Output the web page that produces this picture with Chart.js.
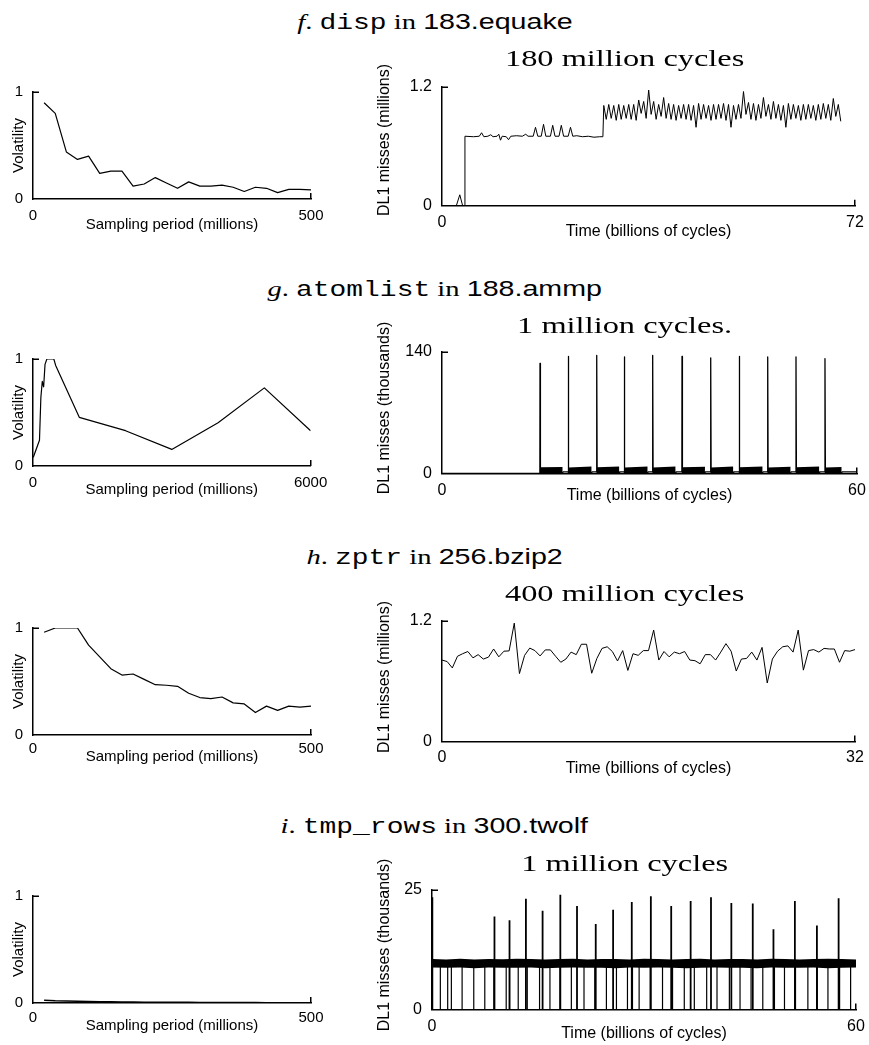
<!DOCTYPE html>
<html><head><meta charset="utf-8">
<script src="https://cdn.jsdelivr.net/npm/chart.js@4.4.0/dist/chart.umd.min.js"></script>
<style>
html,body{margin:0;padding:0;background:#fff;}
body{width:869px;height:1045px;position:relative;overflow:hidden;}
canvas{position:absolute;}
.hdr{position:absolute;left:0;width:869px;text-align:center;font-size:22px;line-height:22px;white-space:nowrap;z-index:2;color:#000;}
.hdr .w{display:inline-block;transform:scaleX(1.3);}
.serif{font-family:"Liberation Serif","Times New Roman",serif;}
.mono{font-family:"Liberation Mono","DejaVu Sans Mono",monospace;font-size:21.5px;}
.sans{font-family:"Liberation Sans",Arial,sans-serif;}
.sub{position:absolute;left:425px;width:400px;text-align:center;font-family:"Liberation Serif","Times New Roman",serif;font-size:24px;line-height:24px;white-space:nowrap;z-index:2;color:#000;}
.sub .w{display:inline-block;transform:scaleX(1.35);}
.ytl{position:absolute;left:384px;font-family:"Liberation Sans",Arial,sans-serif;font-size:16px;line-height:16px;white-space:nowrap;color:#000;transform:translate(-50%,-50%) rotate(-90deg);z-index:2;}
</style></head><body>

<div class="hdr" style="top:11px"><span class="w"><i class="serif">f</i><span class="serif">.</span> <span class="mono">disp</span> <span class="serif">in</span> <span class="sans">183.equake</span></span></div>
<div class="sub" style="top:46px"><span class="w">180 million cycles</span></div>
<div class="hdr" style="top:278px"><span class="w"><i class="serif">g</i><span class="serif">.</span> <span class="mono">atomlist</span> <span class="serif">in</span> <span class="sans">188.ammp</span></span></div>
<div class="sub" style="top:313px"><span class="w">1 million cycles.</span></div>
<div class="hdr" style="top:546px"><span class="w"><i class="serif">h</i><span class="serif">.</span> <span class="mono">zptr</span> <span class="serif">in</span> <span class="sans">256.bzip2</span></span></div>
<div class="sub" style="top:581px"><span class="w">400 million cycles</span></div>
<div class="hdr" style="top:815px"><span class="w"><i class="serif">i</i><span class="serif">.</span> <span class="mono">tmp_rows</span> <span class="serif">in</span> <span class="sans">300.twolf</span></span></div>
<div class="sub" style="top:851px"><span class="w">1 million cycles</span></div>

<div class="ytl" style="top:140px">DL1 misses (millions)</div>
<div class="ytl" style="top:408px">DL1 misses (thousands)</div>
<div class="ytl" style="top:677px">DL1 misses (millions)</div>
<div class="ytl" style="top:945px">DL1 misses (thousands)</div>

<script>
// ---------------- DATA ----------------
// f. disp in 183.equake
const fVolPeriod = [20,40,60,80,100,120,140,160,180,200,220,240,260,280,300,320,340,360,380,400,420,440,460,480,500];
const fVol = [0.90,0.80,0.44,0.37,0.40,0.24,0.26,0.26,0.12,0.14,0.20,0.15,0.10,0.16,0.12,0.12,0.13,0.11,0.07,0.11,0.10,0.06,0.09,0.09,0.085];
const fTime = [0,2.5,3.1,3.6,3.95,4.0,5.5,6.5,6.9,7.3,8.0,8.5,8.9,9.6,9.9,10.2,10.5,11.2,11.6,12.0,13.0,14.0,14.6,15.0,15.9,16.3,16.7,17.3,17.7,18.1,18.9,19.3,19.7,20.4,20.8,21.2,22.0,22.4,22.8,23.5,24.5,25.5,26.5,27.5,28.05,
 28.20,28.63,29.07,29.50,29.94,30.37,30.81,31.24,31.68,32.11,32.55,32.98,33.42,33.85,34.29,34.72,35.16,35.59,36.03,36.46,36.90,37.33,37.77,38.20,38.64,39.07,39.51,39.94,40.38,40.81,41.25,41.68,42.12,42.55,42.99,43.42,43.86,44.29,44.73,45.16,45.60,46.03,46.47,46.90,47.34,47.77,48.21,48.64,49.08,49.51,49.95,50.38,50.82,51.25,51.69,52.12,52.56,52.99,53.43,53.86,54.30,54.73,55.17,55.60,56.04,56.47,56.91,57.34,57.78,58.21,58.65,59.08,59.52,59.95,60.39,60.82,61.26,61.69,62.13,62.56,63.00,63.43,63.87,64.30,64.74,65.17,65.61,66.04,66.48,66.91,67.35,67.78,68.22,68.65,69.09,69.52];
const fMiss = [0,0,0.11,0,0,0.70,0.695,0.70,0.735,0.695,0.70,0.715,0.695,0.70,0.72,0.66,0.70,0.695,0.665,0.70,0.705,0.70,0.72,0.70,0.70,0.79,0.70,0.70,0.82,0.70,0.70,0.81,0.70,0.70,0.81,0.70,0.70,0.79,0.70,0.705,0.695,0.70,0.69,0.695,0.695,
 1.01,0.87, 1.02,0.88, 1.01,0.86, 1.02,0.87, 1.01,0.88, 1.02,0.87, 1.02,0.86, 1.065,0.93, 1.05,0.88, 1.165,0.92,
 1.05,0.87, 1.02,0.90, 1.09,0.88, 1.03,0.87, 1.02,0.86, 1.01,0.88, 1.02,0.87, 1.02,0.86, 1.01,0.79, 1.03,0.87,
 1.02,0.88, 1.01,0.86, 1.02,0.87, 1.02,0.88, 1.03,0.86, 1.02,0.79, 1.01,0.87, 1.02,0.88, 1.15,0.92, 1.04,0.87,
 1.03,0.86, 1.02,0.88, 1.09,0.90, 1.02,0.87, 1.05,0.88, 1.02,0.86, 1.01,0.79, 1.03,0.87, 1.02,0.88, 1.01,0.86,
 1.02,0.87, 1.02,0.88, 1.01,0.86, 1.02,0.87, 1.03,0.88, 1.02,0.86, 1.08,0.90, 1.02,0.85];

// g. atomlist in 188.ammp
const gVolPeriod = [5,140,170,200,230,260,300,450,490,1000,2000,3000,4000,5000,6000];
const gVol = [0.08,0.24,0.64,0.79,0.74,0.95,1.0,1.0,0.94,0.455,0.33,0.155,0.405,0.73,0.33];
const gSpikeTime = [14.17,18.26,22.37,26.36,30.46,34.70,38.85,42.98,47.09,51.18,55.37];
const gSpikePeak = [126.5,134.5,135.6,133.8,135.6,134.5,132.7,134.5,133.8,133.8,132.0];
const gNoiseEnd = [17.45,21.64,25.64,29.74,33.78,38.02,42.12,46.36,50.41,54.55,57.79];
const gNoiseTopStart = [7.0,6.8,7.1,6.9,6.8,7.0,6.9,7.0,6.8,7.0,6.8];
const gNoiseTopEnd = [7.5,7.8,8.0,7.8,7.9,7.7,7.9,7.8,7.6,8.0,7.3];
const gNoiseBase = [0.6,0.5,0.6,0.5,0.6,0.5,0.6,0.5,0.5,0.6,0.5];
const gGapLevel = [0,1.8,1.8,1.8,1.8,1.8,1.8,1.8,1.8,1.8,1.8,1.8];

// h. zptr in 256.bzip2
const hVolPeriod = [20,40,60,80,100,120,140,160,180,200,220,240,260,280,300,320,340,360,380,400,420,440,460,480,500];
const hVol = [0.96,1.0,1.0,1.0,0.84,0.73,0.62,0.56,0.57,0.52,0.47,0.465,0.455,0.39,0.35,0.34,0.355,0.30,0.29,0.21,0.27,0.23,0.27,0.26,0.27];
const hTime = [0,0.4,0.8,1.2,1.6,2.0,2.4,2.8,3.2,3.6,4.0,4.4,4.8,5.2,5.6,6.0,6.4,6.8,7.2,7.6,8.0,8.4,8.8,9.2,9.6,10.0,10.4,10.8,11.2,11.6,12.0,12.4,12.8,13.2,13.6,14.0,14.4,14.8,15.2,15.6,16.0,16.4,16.8,17.2,17.6,18.0,18.4,18.8,19.2,19.6,20.0,20.4,20.8,21.2,21.6,22.0,22.4,22.8,23.2,23.6,24.0,24.4,24.8,25.2,25.6,26.0,26.4,26.8,27.2,27.6,28.0,28.4,28.8,29.2,29.6,30.0,30.4,30.8,31.2,31.6,32.0];
const hMiss = [0.808,0.793,0.730,0.846,0.871,0.893,0.830,0.862,0.818,0.837,
 0.918,0.840,0.896,0.899,1.175,0.674,0.855,0.927,0.902,0.849,
 0.909,0.909,0.846,0.786,0.818,0.887,0.862,0.965,0.965,0.677,
 0.824,0.924,0.940,0.893,0.799,0.902,0.705,0.871,0.855,0.902,
 0.902,1.106,0.808,0.893,0.840,0.887,0.871,0.893,0.808,0.802,
 0.771,0.862,0.862,0.808,0.887,0.971,0.896,0.699,0.818,0.824,
 0.887,0.808,0.934,0.580,0.818,0.896,0.940,0.949,0.887,1.106,
 0.708,0.902,0.912,0.887,0.924,0.918,0.918,0.786,0.902,0.896,
 0.912];

// i. tmp_rows in 300.twolf
const iVolPeriod = [20,40,60,80,100,120,140,160,180,200,220,240,260,280,300,320,340,360,380,400,420,440,460,480,500];
const iVol = [0.025,0.02,0.018,0.016,0.014,0.012,0.011,0.01,0.009,0.008,0.007,0.007,0.006,0.006,0.005,0.005,0.005,0.004,0.004,0.004,0.003,0.003,0.003,0.003,0.003];
const iBandTime = [0.1,2,4,6,8,10,12,14,16,18,20,22,24,26,28,30,32,34,36,38,40,42,44,46,48,50,52,54,56,58,60];
const iBandHigh = [10.5,10.4,10.55,10.4,10.5,10.45,10.55,10.5,10.4,10.5,10.55,10.4,10.5,10.5,10.4,10.55,10.5,10.4,10.5,10.55,10.4,10.5,10.5,10.4,10.55,10.5,10.4,10.5,10.55,10.5,10.4];
const iBandLow = [8.75,8.7,8.75,8.6,8.75,8.7,8.7,8.75,8.6,8.7,8.75,8.7,8.7,8.6,8.75,8.7,8.75,8.7,8.6,8.7,8.75,8.7,8.7,8.6,8.75,8.7,8.7,8.75,8.6,8.7,8.75];
const iSpikeTime = [0.05,8.84,10.97,13.29,15.65,18.16,20.52,23.17,25.63,28.27,30.97,33.85,36.60,39.48,42.36,45.39,48.32,51.35,54.47,57.54];
const iSpikePeak = [23.4,19.4,18.6,23.1,20.6,23.9,21.6,17.8,20.8,22.4,23.6,21.6,22.6,23.4,22.2,22.1,16.7,22.6,17.5,23.2];
const iDropTime = [1.18,2.22,2.74,4.26,5.91,7.47,8.75,10.50,10.97,12.20,13.48,15.22,16.69,18.11,19.72,21.51,23.03,24.68,26.10,27.66,28.37,29.31,30.87,32.62,34.04,35.70,37.12,38.87,40.33,42.08,43.59,45.15,46.81,48.46,49.88,51.44,53.19,54.52,56.03,57.68,59.24];
const iDropTop = 9.3;

// tick labels
const volXTicks500 = [0,500], volXTicks6000 = [0,6000], volYTicks = [0,1];
const fXTicks = [0,72], fYTicks = [0,1.2];
const gXTicks = [0,60], gYTicks = [0,140];
const hXTicks = [0,32], hYTicks = [0,1.2];
const iXTicks = [0,60], iYTicks = [0,25];

// ---------------- sanity ----------------
[[fTime,fMiss],[hTime,hMiss],[iBandTime,iBandHigh],[iBandTime,iBandLow],[fVolPeriod,fVol],[gVolPeriod,gVol],[hVolPeriod,hVol],[iVolPeriod,iVol],[iSpikeTime,iSpikePeak]].forEach((p,k)=>{
  if (p[0].length !== p[1].length) throw new Error('length mismatch '+k+': '+p[0].length+' vs '+p[1].length);
});

// ---------------- helpers ----------------
Chart.defaults.font.family = '"Liberation Sans", Arial, Helvetica, sans-serif';
Chart.defaults.color = '#000';

const pts = (xs, ys) => xs.map((x, i) => ({x, y: ys[i]}));
const ln = (data, bw, extra) => Object.assign({data, borderColor:'#000', borderWidth:bw, fill:false, pointRadius:0, spanGaps:false}, extra || {});
const band = (data, isUpper) => ln(data, 0, isUpper ? {fill:'+1', backgroundColor:'#000', borderColor:'rgba(0,0,0,0)'} : {borderColor:'rgba(0,0,0,0)'});

const innerTicks = {
  id: 'innerTicks',
  afterDraw(chart) {
    const {ctx, chartArea: a, scales: {x, y}} = chart;
    ctx.save();
    ctx.strokeStyle = '#000'; ctx.lineWidth = 1.5;
    ctx.beginPath();
    const yt = Math.round(y.getPixelForValue(y.max)) + 0.25;
    ctx.moveTo(a.left, yt); ctx.lineTo(a.left + 6, yt);
    const xr = Math.round(x.getPixelForValue(x.max)) - 0.25;
    ctx.moveTo(xr, a.bottom); ctx.lineTo(xr, a.bottom - 6);
    ctx.stroke();
    ctx.restore();
  }
};

function panel(o) {
  const PT = 12, PR = 24;
  const cv = document.createElement('canvas');
  const top = o.T - PT;
  const w = o.R + PR - o.cl, h = Math.round(o.B + o.hx - top);
  cv.width = w; cv.height = h;
  cv.style.left = o.cl + 'px'; cv.style.top = top + 'px';
  cv.style.width = w + 'px'; cv.style.height = h + 'px';
  document.body.appendChild(cv);
  new Chart(cv, {
    type: 'line',
    data: {datasets: o.datasets},
    options: {
      responsive: false, animation: false, devicePixelRatio: 1,
      layout: {padding: {left: 0, top: PT, right: PR, bottom: 0}},
      plugins: {legend: {display: false}, tooltip: {enabled: false}},
      elements: {point: {radius: 0}, line: {tension: 0, borderJoinStyle: 'round', borderCapStyle: 'butt'}},
      scales: {
        x: {
          type: 'linear', min: o.xt[0], max: o.xt[1],
          afterBuildTicks: s => { s.ticks = o.xt.map(v => ({value: v})); },
          ticks: {padding: o.xpad, font: {size: o.fs}, maxRotation: 0, autoSkip: false, callback: (v, i) => String(o.xt[i])},
          grid: {display: false, drawTicks: false},
          border: {display: true, color: '#000', width: 1.5},
          title: {display: true, text: o.xtitle, font: {size: o.fs}, padding: {top: 0, bottom: 0}},
          afterFit: s => { s.height = o.hx; }
        },
        y: {
          type: 'linear', min: o.yt[0], max: o.yt[1],
          afterBuildTicks: s => { s.ticks = o.yt.map(v => ({value: v})); },
          ticks: {padding: 10, font: {size: o.fs}, autoSkip: false, callback: (v, i) => String(o.yt[i])},
          grid: {display: false, drawTicks: false},
          border: {display: true, color: '#000', width: 1.5},
          title: {display: !!o.ytitle, text: o.ytitle || '', font: {size: o.fs}, padding: {top: o.ytp, bottom: 0}},
          afterFit: s => { s.width = o.L - o.cl; }
        }
      }
    },
    plugins: [innerTicks]
  });
}

// ---------------- left panels (volatility) ----------------
const volCommon = {cl: 0, L: 33, R: 311, fs: 15, ytp: 10, xtitle: 'Sampling period (millions)', ytitle: 'Volatility', yt: volYTicks};
panel(Object.assign({}, volCommon, {T: 85, B: 199, hx: 35, xpad: 7.7, xt: volXTicks500, datasets: [ln(pts(fVolPeriod, fVol), 1.2)]}));
panel(Object.assign({}, volCommon, {T: 352, B: 466, hx: 33, xpad: 7.7, xt: volXTicks6000, datasets: [ln(pts(gVolPeriod, gVol), 1.2)]}));
panel(Object.assign({}, volCommon, {T: 621, B: 735, hx: 31, xpad: 5, xt: volXTicks500, datasets: [ln(pts(hVolPeriod, hVol), 1.2)]}));
panel(Object.assign({}, volCommon, {T: 889, B: 1003, hx: 32, xpad: 6, xt: volXTicks500, datasets: [ln(pts(iVolPeriod, iVol), 1.5)]}));

// ---------------- right panels (DL1 misses) ----------------
const rCommon = {cl: 366, fs: 16, ytp: 8, xtitle: 'Time (billions of cycles)'};

// f
panel(Object.assign({}, rCommon, {L: 442, T: 79, R: 855, B: 206, hx: 35.3, xpad: 7.4, xt: fXTicks, yt: fYTicks,
  datasets: [ln(pts(fTime, fMiss), 1)]}));

// g
(function () {
  const line = [{x: 0, y: 0}];
  const ds = [];
  gSpikeTime.forEach((s, k) => {
    const e = gNoiseEnd[k];
    line.push({x: s - 0.02, y: gGapLevel[k]}, {x: s, y: gSpikePeak[k]}, {x: s + 0.06, y: gNoiseBase[k]}, {x: e, y: gNoiseBase[k]}, {x: e + 0.05, y: gGapLevel[k + 1]});
    ds.push(band([{x: s + 0.04, y: gNoiseTopStart[k]}, {x: e, y: gNoiseTopEnd[k]}], true));
    ds.push(band([{x: s + 0.04, y: gNoiseBase[k]}, {x: e, y: gNoiseBase[k]}], false));
  });
  line.push({x: 60, y: gGapLevel[gGapLevel.length - 1]});
  panel(Object.assign({}, rCommon, {L: 442, T: 344, R: 857, B: 473, hx: 31.6, xpad: 7.4, xt: gXTicks, yt: gYTicks,
    datasets: [ln(line, 1.3)].concat(ds)}));
})();

// h
panel(Object.assign({}, rCommon, {L: 442, T: 613, R: 855, B: 741, hx: 36.6, xpad: 6.4, xt: hXTicks, yt: hYTicks,
  datasets: [ln(pts(hTime, hMiss), 1)]}));

// i
(function () {
  const spikes = [], drops = [];
  iSpikeTime.forEach((t, k) => { spikes.push({x: t, y: 0}, {x: t, y: iSpikePeak[k]}, {x: t, y: null}); });
  iDropTime.forEach(t => { drops.push({x: t, y: iDropTop}, {x: t, y: 0}, {x: t, y: null}); });
  panel(Object.assign({}, rCommon, {L: 432, T: 882, R: 856, B: 1009, hx: 33.6, xpad: 8, xt: iXTicks, yt: iYTicks,
    datasets: [
      ln(spikes, 1.8), ln(drops, 1.2),
      band(pts(iBandTime, iBandHigh), true), band(pts(iBandTime, iBandLow), false)
    ]}));
})();
</script>
</body></html>
